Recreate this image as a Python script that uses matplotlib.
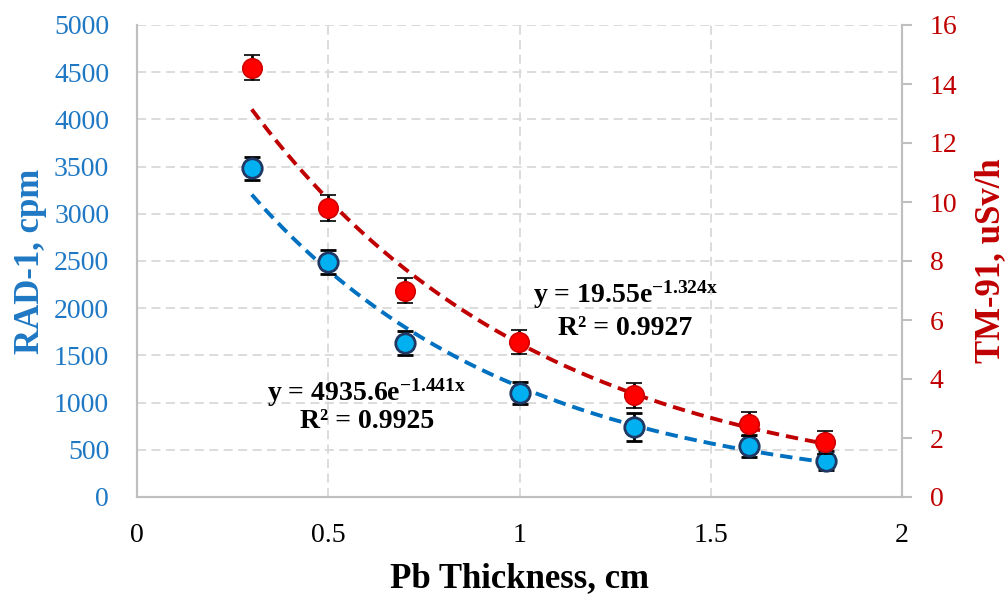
import numpy as np
import matplotlib
matplotlib.use("Agg")
import matplotlib.pyplot as plt

# ---- data ----
thickness = [0.3, 0.5, 0.7, 1.0, 1.3, 1.6, 1.8]
rad1_cpm = [3480, 2490, 1630, 1100, 745, 540, 385]
rad1_err = [125, 125, 125, 120, 150, 115, 100]
tm91_usvh = [14.55, 9.8, 7.0, 5.25, 3.45, 2.48, 1.85]
tm91_err = [0.42, 0.43, 0.42, 0.4, 0.43, 0.4, 0.38]

# trendline coefficients (from the chart labels)
blue_a, blue_b, blue_r2 = 4935.6, -1.441, 0.9925
red_a, red_b, red_r2 = 19.55, -1.324, 0.9927

x_ticks = [0, 0.5, 1, 1.5, 2]
x_ticklabels = ["0", "0.5", "1", "1.5", "2"]
left_ticks = list(range(0, 5001, 500))
right_ticks = list(range(0, 17, 2))

plt.rcParams['font.family'] = ['Liberation Serif', 'DejaVu Serif']
plt.rcParams['mathtext.fontset'] = 'custom'
plt.rcParams['mathtext.rm'] = 'Liberation Serif'
plt.rcParams['mathtext.bf'] = 'Liberation Serif:bold'
plt.rcParams['mathtext.it'] = 'Liberation Serif:italic'

BLUE_TXT = '#1f78c4'
RED_TXT = '#c00000'
SPINE = '#bfbfbf'
GRID = '#d9d9d9'

fig = plt.figure(figsize=(10.06, 5.95), dpi=100)
ax = fig.add_axes([137/1006, 1-497/595, (902-137)/1006, (497-25)/595])
ax2 = ax.twinx()

ax.set_xlim(0, 2)
ax.set_ylim(0, 5000)
ax2.set_ylim(0, 16)

ax.set_xticks(x_ticks)
ax.set_xticklabels(x_ticklabels)
ax.set_yticks(left_ticks)
ax2.set_yticks(right_ticks)
ax.grid(True, color=GRID, linestyle=(0, (5, 3)), linewidth=1.3)
ax.set_axisbelow(True)

for a in (ax, ax2):
    a.spines['top'].set_visible(False)
    for s in ('left', 'right', 'bottom'):
        a.spines[s].set_color(SPINE)
        a.spines[s].set_linewidth(1.5)

ax.tick_params(axis='x', length=0, pad=19, labelsize=20, labelcolor='black')
ax.tick_params(axis='y', length=0, pad=20, labelsize=20, labelcolor=BLUE_TXT)
ax2.tick_params(axis='y', length=7, width=1.5, color=SPINE, pad=13, labelsize=20, labelcolor=RED_TXT)

# trendlines
xf = np.linspace(min(thickness), max(thickness), 200)
ax.plot(xf, blue_a*np.exp(blue_b*xf), color='#0070c0', lw=2.8, ls=(0, (3.2, 1.8)), zorder=2)
ax2.plot(xf, red_a*np.exp(red_b*xf), color='#c00000', lw=2.8, ls=(0, (3.2, 1.8)), zorder=2)

# data
ax.errorbar(thickness, rad1_cpm, yerr=rad1_err, fmt='o', ms=14, mfc='#00b0f0', mec='#1f3864',
            mew=2.0, ecolor='black', elinewidth=2.0, capsize=6, capthick=3, zorder=3)
ax2.errorbar(thickness, tm91_usvh, yerr=tm91_err, fmt='o', ms=14, mfc='#ff0000', mec='#d00000',
             mew=1.2, ecolor='black', elinewidth=2.0, capsize=6, capthick=3, zorder=3)

# labels
ax.set_xlabel('Pb Thickness, cm', fontsize=25, fontweight='bold', labelpad=10)
ax.set_ylabel('RAD-1, cpm', fontsize=25, fontweight='bold', color=BLUE_TXT, labelpad=5)
ax2.set_ylabel('TM-91, uSv/h', fontsize=25, fontweight='bold', color=RED_TXT, labelpad=12)

# equations
ax.text(0.601, 1102, r'y = 4935.6e$^{\mathbf{-1.441x}}$', fontsize=20, fontweight='bold',
        ha='center', va='center', zorder=5)
ax.text(0.601, 795, 'R² = %.4f' % blue_r2, fontsize=20, fontweight='bold',
        ha='center', va='center', zorder=5)
ax.text(1.276, 2140, r'y = 19.55e$^{\mathbf{-1.324x}}$', fontsize=20, fontweight='bold',
        ha='center', va='center', zorder=5)
ax.text(1.276, 1790, 'R² = %.4f' % red_r2, fontsize=20, fontweight='bold',
        ha='center', va='center', zorder=5)

fig.savefig('out.png', dpi=100)
